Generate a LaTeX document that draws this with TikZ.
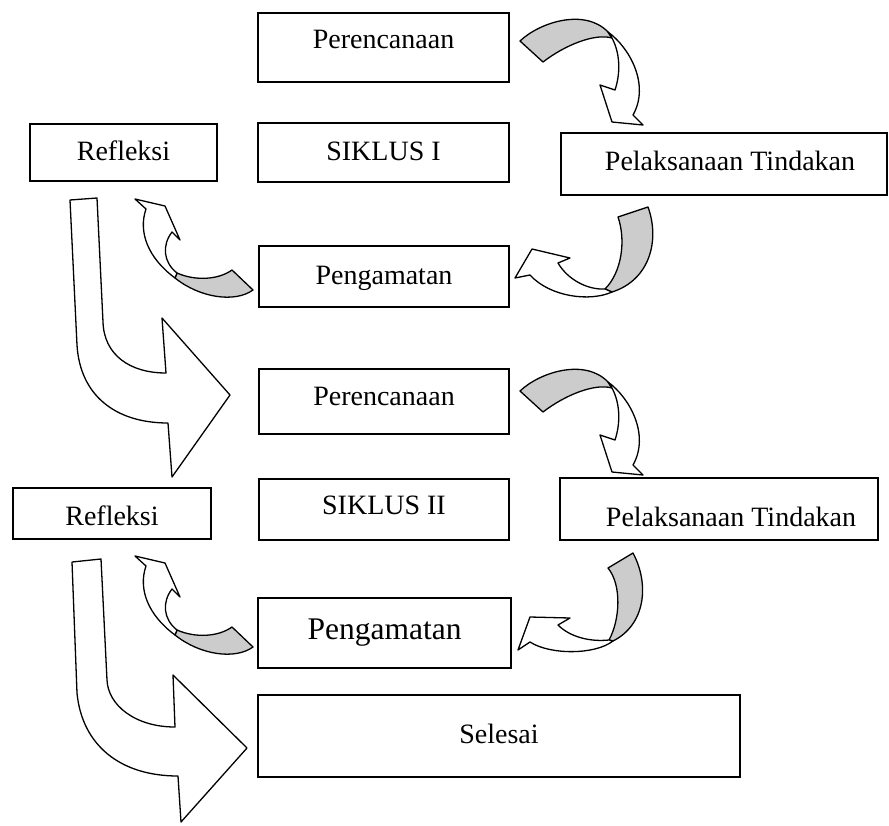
\documentclass[tikz,border=0pt]{standalone}
\usepackage{fontspec}
\setmainfont{Liberation Serif}
\newcommand\cfont{\fontsize{28}{30}\selectfont}
\newcommand\tfont{\fontsize{31.5}{34}\selectfont}
\definecolor{foldgray}{RGB}{204,204,204}
\tikzset{
  box/.style={draw, line width=1.5pt, inner sep=0pt, text depth=0pt, font=\cfont},
  band/.style={draw, line width=1.3pt, line join=round, fill=white},
  fold/.style={draw, line width=1.3pt, line join=round, fill=foldgray}
}
\newcommand\arrowDown{%
  \draw[fold] (520,41) .. controls (540,22) and (585,8) .. (608,32) -- (612,38) .. controls (595,33) and (565,45) .. (543,62) -- cycle;
  \draw[band] (608,32) .. controls (630,48) and (650,85) .. (633,115) -- (643,125) -- (612,122) -- (600,85) -- (615,90) .. controls (620,75) and (621,55) .. (612,38) -- cycle;
}
\newcommand\arrowUp{%
  \draw[fold] (232,270) -- (253,290) .. controls (235,303) and (200,298) .. (175,278) -- (177,273) .. controls (195,281) and (218,280) .. (232,270) -- cycle;
  \draw[band] (175,278) .. controls (148,258) and (138,232) .. (146,209) -- (135,199) -- (165,206) -- (180,240) -- (172,232) .. controls (162,245) and (163,262) .. (177,273) -- cycle;
}
\begin{document}
\begin{tikzpicture}[x=1pt,y=-1pt]
\useasboundingbox (0,0) rectangle (889,825);
% boxes
\node[box, minimum width=251pt, minimum height=69pt, text height=1pt] (per1) at (383.5,47.5) {Perencanaan};
\node[box, minimum width=187pt, minimum height=57pt, text height=15pt] (ref1) at (123.5,152.5) {Refleksi};
\node[box, minimum width=251pt, minimum height=59pt, text height=15pt] (sik1) at (383.5,152.5) {SIKLUS I};
\node[box, minimum width=326pt, minimum height=62pt, text height=12pt] (pel1) at (724,164) {\hspace*{12pt}Pelaksanaan Tindakan};
\node[box, minimum width=250pt, minimum height=61pt, text height=15pt] (pen1) at (384,276.5) {Pengamatan};
\node[box, minimum width=250pt, minimum height=65pt, text height=7pt] (per2) at (384,401.5) {Perencanaan};
\node[box, minimum width=250pt, minimum height=61pt, text height=9pt] (sik2) at (384,509.5) {SIKLUS II};
\node[box, minimum width=198pt, minimum height=51pt, text height=23pt] (ref2) at (112,513.5) {Refleksi};
\node[box, minimum width=318pt, minimum height=62pt, text height=34pt] (pel2) at (719,509) {\hspace*{24pt}Pelaksanaan Tindakan};
\node[box, font=\tfont, minimum width=253pt, minimum height=70pt, text height=12pt] (pen2) at (384.5,633) {Pengamatan};
\node[box, minimum width=482pt, minimum height=82pt, text height=14pt] (sel) at (499,736) {Selesai};
% cycle I curved arrows
\arrowDown
\draw[fold] (618,217) -- (648,207) .. controls (660,240) and (650,280) .. (612,292) -- (605,289) .. controls (622,272) and (626,240) .. (618,217) -- cycle;
\draw[band] (612,292) .. controls (590,302) and (550,297) .. (530,275) -- (515,278) -- (532,249) -- (570,258) -- (558,263) .. controls (568,280) and (588,290) .. (605,289) -- cycle;
\arrowUp
% big arrow to cycle II
\draw[band] (70,200) -- (97,198) -- (103,322) .. controls (104,355) and (130,373) .. (166,373) -- (162,318) -- (230,395) -- (172,477) -- (168,423) .. controls (115,423) and (80,395) .. (77,345) -- cycle;
% cycle II curved arrows
\begin{scope}[shift={(0,350)}]
\arrowDown
\end{scope}
\draw[fold] (608,568) -- (633,553) .. controls (650,585) and (645,625) .. (613,641) -- (609,640) .. controls (620,620) and (622,585) .. (608,568) -- cycle;
\draw[band] (613,641) .. controls (595,655) and (550,655) .. (530,642) -- (518,650) -- (530,617) -- (570,618) -- (558,625) .. controls (570,637) and (590,642) .. (609,640) -- cycle;
\begin{scope}[shift={(0,357)}]
\arrowUp
\end{scope}
% big arrow to Selesai
\draw[band] (72,562) -- (101,559) -- (107,680) .. controls (108,705) and (135,727) .. (175,727) -- (173,675) -- (247,748) -- (181,822) -- (178,776) .. controls (120,776) and (82,745) .. (77,693) -- cycle;
\end{tikzpicture}
\end{document}
